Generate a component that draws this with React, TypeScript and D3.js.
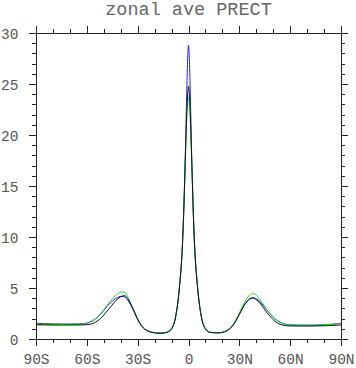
import React from "react";
import * as d3 from "d3";

const LAT = [
  -90, -85, -80, -75, -70, -65,
  -60, -58, -56, -54, -52, -50, -48, -46, -44, -42, -40, -38, -36, -34, -32, -30, -28, -26, -24, -22, -20, -18, -16, -14, -12,
  -11, -10, -9, -8, -7, -6, -5, -4,
  -3.5, -3, -2.5, -2, -1.5, -1, -0.5, 0, 0.5, 1, 1.5, 2, 2.5, 3, 3.5,
  4, 5, 6, 7, 8, 9, 10, 11,
  12, 14, 16, 18, 20, 22, 24, 26, 28, 30, 32, 34, 36, 38, 40, 42, 44, 46, 48, 50, 52, 54, 56, 58, 60,
  65, 70, 75, 80, 85, 90,
];

const BLUE = [
  1.55, 1.5, 1.48, 1.47, 1.47, 1.48,
  1.55, 1.7, 1.85, 2.1, 2.4, 2.8, 3.2, 3.55, 3.85, 4.05, 4.18, 4.15, 3.85, 3.3, 2.6, 1.9, 1.35, 1.0, 0.8, 0.68, 0.62, 0.58, 0.58, 0.62, 0.7,
  0.8, 1.0, 1.3, 1.85, 2.75, 4.0, 5.7, 7.9,
  9.5, 11.6, 14.2, 17.2, 20.8, 24.5, 27.5, 28.8, 27.5, 24.5, 20.8, 17.2, 14.2, 11.6, 9.5,
  7.9, 5.7, 4.0, 2.75, 1.85, 1.3, 1.0, 0.8,
  0.7, 0.64, 0.62, 0.62, 0.66, 0.78, 0.98, 1.32, 1.82, 2.45, 3.1, 3.6, 3.95, 4.05, 3.95, 3.7, 3.3, 2.9, 2.5, 2.15, 1.85, 1.65, 1.5, 1.42, 1.38,
  1.36, 1.35, 1.36, 1.4, 1.45, 1.55,
];

const BLACK = [
  1.4, 1.38, 1.37, 1.37, 1.37, 1.38,
  1.4, 1.45, 1.55, 1.75, 2.0, 2.35, 2.75, 3.15, 3.55, 3.9, 4.15, 4.25, 4.0, 3.4, 2.7, 1.95, 1.35, 1.0, 0.78, 0.66, 0.6, 0.56, 0.56, 0.6, 0.7,
  0.8, 1.0, 1.3, 1.85, 2.75, 4.0, 5.7, 7.9,
  9.5, 11.6, 14.2, 17.0, 19.8, 22.3, 24.0, 24.8, 24.0, 22.3, 19.8, 17.0, 14.2, 11.6, 9.5,
  7.9, 5.7, 4.0, 2.75, 1.85, 1.3, 1.0, 0.8,
  0.68, 0.62, 0.6, 0.6, 0.64, 0.75, 0.95, 1.28, 1.78, 2.4, 3.05, 3.55, 3.9, 4.0, 3.85, 3.55, 3.1, 2.65, 2.25, 1.9, 1.6, 1.45, 1.35, 1.3, 1.28,
  1.27, 1.27, 1.28, 1.3, 1.33, 1.38,
];

const GREEN = [
  1.45, 1.43, 1.42, 1.42, 1.42, 1.44,
  1.5, 1.65, 1.85, 2.1, 2.45, 2.85, 3.3, 3.75, 4.1, 4.4, 4.6, 4.62, 4.2, 3.45, 2.7, 1.95, 1.35, 1.0, 0.8, 0.68, 0.62, 0.58, 0.58, 0.62, 0.72,
  0.85, 1.05, 1.35, 1.9, 2.8, 4.05, 5.75, 7.9,
  9.5, 11.5, 14.0, 16.8, 19.4, 21.8, 23.2, 23.7, 23.2, 21.8, 19.4, 16.8, 14.0, 11.5, 9.5,
  7.9, 5.75, 4.05, 2.8, 1.9, 1.35, 1.05, 0.85,
  0.72, 0.64, 0.62, 0.62, 0.66, 0.8, 1.0, 1.36, 1.9, 2.55, 3.25, 3.85, 4.3, 4.45, 4.3, 3.9, 3.45, 2.95, 2.5, 2.15, 1.85, 1.65, 1.5, 1.42, 1.38,
  1.36, 1.35, 1.36, 1.4, 1.45, 1.52,
];

const SERIES = [
  { name: "blue", values: BLUE, color: "#2020ff" },
  { name: "green", values: GREEN, color: "#20e020" },
  { name: "black", values: BLACK, color: "#111111" },
];

const X_TICKS = [-90, -60, -30, 0, 30, 60, 90];
const X_LABELS = ["90S", "60S", "30S", "0", "30N", "60N", "90N"];
const Y_TICKS = [0, 5, 10, 15, 20, 25, 30];
const TITLE = "zonal ave PRECT";

const W = 356;
const H = 368;
const L = 36;
const R = 341;
const T = 33;
const B = 339;

export default function App() {
  const x = d3.scaleLinear().domain([-90, 90]).range([L, R]);
  const y = d3.scaleLinear().domain([0, 30]).range([B, T]);
  const line = d3
    .line<number>()
    .x((_, i) => x(LAT[i]))
    .y((d) => y(d))
    .curve(d3.curveMonotoneX);

  const xMinor = d3.range(-90, 91, 10).filter((v) => v % 30 !== 0);
  const yMinor = d3.range(0, 31, 1).filter((v) => v % 5 !== 0);
  const font = "'Liberation Mono', 'DejaVu Sans Mono', monospace";
  const txt = "#555";
  const ax = "#222";
  const MAJ = 7;
  const MIN = 4;
  const px = (v: number) => Math.round(v) + 0.5;

  return (
    <svg
      width={W}
      height={H}
      style={{ position: "absolute", left: 0, top: 0, background: "#fff" }}
    >
      <rect x={0} y={0} width={W} height={H} fill="#fff" />
      <text
        x={188.5}
        y={15}
        textAnchor="middle"
        fontFamily={font}
        fontSize={18.5}
        fill="#666"
      >
        {TITLE}
      </text>
      <g>
        {SERIES.map((s) => (
          <path
            key={s.name}
            d={line(s.values) || ""}
            fill="none"
            stroke={s.color}
            strokeWidth={1}
          />
        ))}
      </g>
      <g stroke={ax} strokeWidth={1} shapeRendering="crispEdges">
        <line x1={px(L)} x2={px(L)} y1={T - MAJ} y2={B + MAJ} />
        <line x1={px(R)} x2={px(R)} y1={T - MAJ} y2={B + MAJ} />
        <line x1={L - MAJ} x2={R + MAJ} y1={px(T)} y2={px(T)} />
        <line x1={L - MAJ} x2={R + MAJ} y1={px(B)} y2={px(B)} />
        {X_TICKS.map((v) => (
          <g key={"xt" + v}>
            <line x1={px(x(v))} x2={px(x(v))} y1={B} y2={B + MAJ} />
            <line x1={px(x(v))} x2={px(x(v))} y1={T} y2={T - MAJ} />
          </g>
        ))}
        {xMinor.map((v) => (
          <g key={"xm" + v}>
            <line x1={px(x(v))} x2={px(x(v))} y1={B} y2={B + MIN} />
            <line x1={px(x(v))} x2={px(x(v))} y1={T} y2={T - MIN} />
          </g>
        ))}
        {Y_TICKS.map((v) => (
          <g key={"yt" + v}>
            <line x1={L} x2={L - MAJ} y1={px(y(v))} y2={px(y(v))} />
            <line x1={R} x2={R + MAJ} y1={px(y(v))} y2={px(y(v))} />
          </g>
        ))}
        {yMinor.map((v) => (
          <g key={"ym" + v}>
            <line x1={L} x2={L - MIN} y1={px(y(v))} y2={px(y(v))} />
            <line x1={R} x2={R + MIN} y1={px(y(v))} y2={px(y(v))} />
          </g>
        ))}
      </g>
      <g fontFamily={font} fontSize={14.5} fill={txt}>
        {X_TICKS.map((v, i) => (
          <text key={"xl" + v} x={x(v) + 0.5} y={364} textAnchor="middle">
            {X_LABELS[i]}
          </text>
        ))}
        {Y_TICKS.map((v) => (
          <text key={"yl" + v} x={18.5} y={y(v) + 5.5} textAnchor="end">
            {v}
          </text>
        ))}
      </g>
    </svg>
  );
}
